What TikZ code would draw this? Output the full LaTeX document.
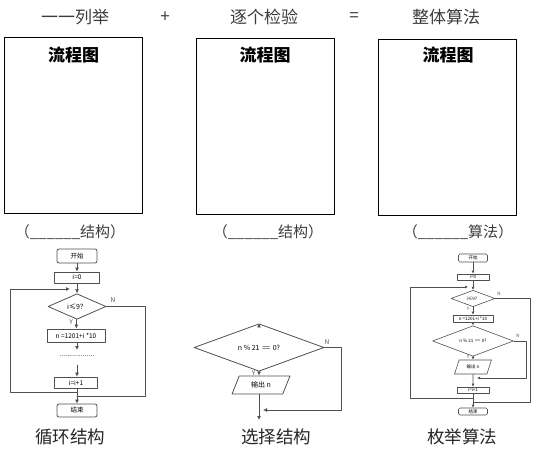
\documentclass[tikz,border=0pt]{standalone}
\usepackage{fontspec}
\setmainfont{Noto Sans CJK SC}
\usetikzlibrary{arrows.meta,shapes.geometric}
\definecolor{ink}{HTML}{3C3C3C}
\definecolor{flow}{HTML}{505050}

\begin{document}
\begin{tikzpicture}[x=1pt,y=-1pt,>=Latex,line cap=round,line join=round]
  \tikzset{
    panel/.style={draw=black,line width=1.1pt,anchor=north west,minimum width=138,minimum height=176},
    head/.style={font=\fontsize{17}{19}\selectfont,text=ink},
    blank/.style={font=\fontsize{15}{17}\selectfont,text=ink},
    term/.style={draw=flow,line width=0.8pt,rounded corners=2pt,inner sep=0pt,font=\fontsize{6.5}{7}\selectfont},
    proc/.style={draw=flow,line width=0.8pt,inner sep=0pt,font=\fontsize{6.5}{7}\selectfont},
    dec/.style={draw=flow,line width=0.8pt,diamond,inner sep=0pt,font=\fontsize{7}{8}\selectfont},
    io/.style={draw=flow,line width=0.8pt,trapezium,trapezium left angle=63,trapezium right angle=117,
      trapezium stretches=true,inner sep=0pt,font=\fontsize{7}{8}\selectfont},
    link/.style={draw=flow,line width=0.8pt},
    tip/.style={link,-{Latex[length=4pt,width=4pt]}},
    yn/.style={font=\fontsize{6.5}{7}\selectfont,text=flow},
    small/.style={font=\fontsize{4.5}{5}\selectfont,line width=0.6pt},
    stip/.style={link,line width=0.6pt,-{Latex[length=3pt,width=3pt]}},
  }
  \useasboundingbox (0,0) rectangle (546,455);

  % Titles and panels
  \node[head] (t1) at (75,17) {一一列举};
  \node[head] (plus) at (165,17) {+};
  \node[head] (t2) at (264,17) {逐个检验};
  \node[head] (eq) at (354,17) {=};
  \node[head] (t3) at (446,17) {整体算法};
  \foreach \px/\py/\cx/\bx/\blk [count=\i] in {4/37/73.5/70/结构,196/38/265/268/结构,378/39/448/458/算法}{
    \node[panel] (box\i) at (\px,\py) {};
    \node[font=\bfseries\fontsize{17}{19}\selectfont] (flow\i) at (\cx,55) {流程图};
    \node[blank] (gap\i) at (\bx,232) {（\_\_\_\_\_\_\blk）};
  }

  % Loop structure
  \node[term,minimum width=40,minimum height=14] (start1) at (77,256) {开始};
  \node[proc,minimum width=45,minimum height=11] (init1) at (77,277.5) {i=0};
  \node[dec,minimum width=58,minimum height=19] (test1) at (77,306.5) {i≤9？};
  \node[proc,minimum width=58,minimum height=13] (calc1) at (76,335.5) {n =1201+i *10};
  \node[font=\fontsize{7}{8}\selectfont] (dots1) at (77,356) {..................};
  \node[proc,minimum width=43,minimum height=11] (inc1) at (76,382.5) {i=i+1};
  \node[term,minimum width=40,minimum height=13] (end1) at (77,410.5) {结束};
  \coordinate (calcout1) at (77,350);
  \coordinate (incin1) at (77,365);
  \coordinate (back1) at (77,392);
  \coordinate (join1) at (77,396);
  \coordinate (loop1) at (70,289);
  \draw[tip] (start1) -- (init1);
  \draw[tip] (init1) -- (test1);
  \draw[tip] (test1) -- node[yn,left,pos=0.3] {Y} (calc1);
  \draw[tip] (calc1.south -| calcout1) -- (calcout1);
  \draw[tip] (incin1) -- (incin1 |- inc1.north);
  \draw[tip] (inc1.south -| end1) -- (end1);
  \draw[tip] (back1) -- (10,392) -- (10,289) -- (loop1);
  \draw[link] (test1.east) -- (145,306.5) -- (145,396) -- (join1);
  \node[yn] (n1) at (113,300) {N};

  % Selection structure
  \coordinate (in2) at (259,325);
  \node[dec,minimum width=130,minimum height=29] (test2) at (259,347.5) {n \% 21 \,==\, 0?};
  \node[io,minimum width=58,minimum height=18] (out2) at (261,385) {输出 n};
  \coordinate (exit2) at (259,420);
  \coordinate (back2) at (263,410);
  \draw[tip] (in2) -- (test2);
  \draw[tip] (test2) -- node[yn,left,pos=0.4] {Y} (test2.south |- out2.north);
  \draw[tip] (test2.south |- out2.south) -- (exit2);
  \draw[tip] (test2.east) -- (341,347.5) -- (341,410) -- (back2);
  \node[yn] (n2) at (327,342) {N};

  % Enumeration algorithm
  \begin{scope}[small]
    \node[term,small,minimum width=29,minimum height=8,rounded corners=1.5pt] (start3) at (473,258) {开始};
    \node[proc,small,minimum width=32,minimum height=6] (init3) at (473,277) {i=0};
    \node[dec,small,minimum width=44,minimum height=13] (test3) at (473,298.5) {i≤9？};
    \node[proc,small,minimum width=40,minimum height=7] (calc3) at (473,318.5) {n =1201+i *10};
    \node[dec,small,minimum width=81,minimum height=18] (check3) at (473,341) {n \% 21 \,==\, 0?};
    \node[io,small,minimum width=37,minimum height=14] (out3) at (473,367) {输出 n};
    \node[proc,small,minimum width=32,minimum height=6] (inc3) at (473,390) {i=i+1};
    \node[term,small,minimum width=29,minimum height=7,rounded corners=1.5pt] (end3) at (473,411.5) {结束};
    \coordinate (loop3) at (468,287);
    \coordinate (back3) at (473,398);
    \coordinate (join3) at (473,402);
    \coordinate (ret3) at (477,378);
    \draw[stip] (start3) -- (init3);
    \draw[stip] (init3) -- (test3);
    \draw[stip] (test3) -- node[yn,small,left,pos=0.2] {Y} (calc3);
    \draw[stip] (calc3) -- (check3);
    \draw[stip] (check3) -- node[yn,small,left,pos=0.2] {Y} (out3);
    \draw[stip] (out3) -- (inc3);
    \draw[stip] (inc3) -- (end3);
    \draw[stip] (back3) -- (410,398) -- (410,287) -- (loop3);
    \draw[link,line width=0.6pt] (test3.east) -- (530,298.5) -- (530,402) -- (join3);
    \draw[stip] (check3.east) -- (526,341) -- (526,378) -- (ret3);
    \node[yn,small] (n3) at (499,294) {N};
    \node[yn,small] (m3) at (518,336) {N};
  \end{scope}

  % Captions
  \node[head,text=black!85,font=\fontsize{17.5}{19}\selectfont] (cap1) at (70,437) {循环结构};
  \node[head,text=black!85,font=\fontsize{17.5}{19}\selectfont] (cap2) at (276,437) {选择结构};
  \node[head,text=black!85,font=\fontsize{17.5}{19}\selectfont] (cap3) at (462,437) {枚举算法};
\end{tikzpicture}
\end{document}
